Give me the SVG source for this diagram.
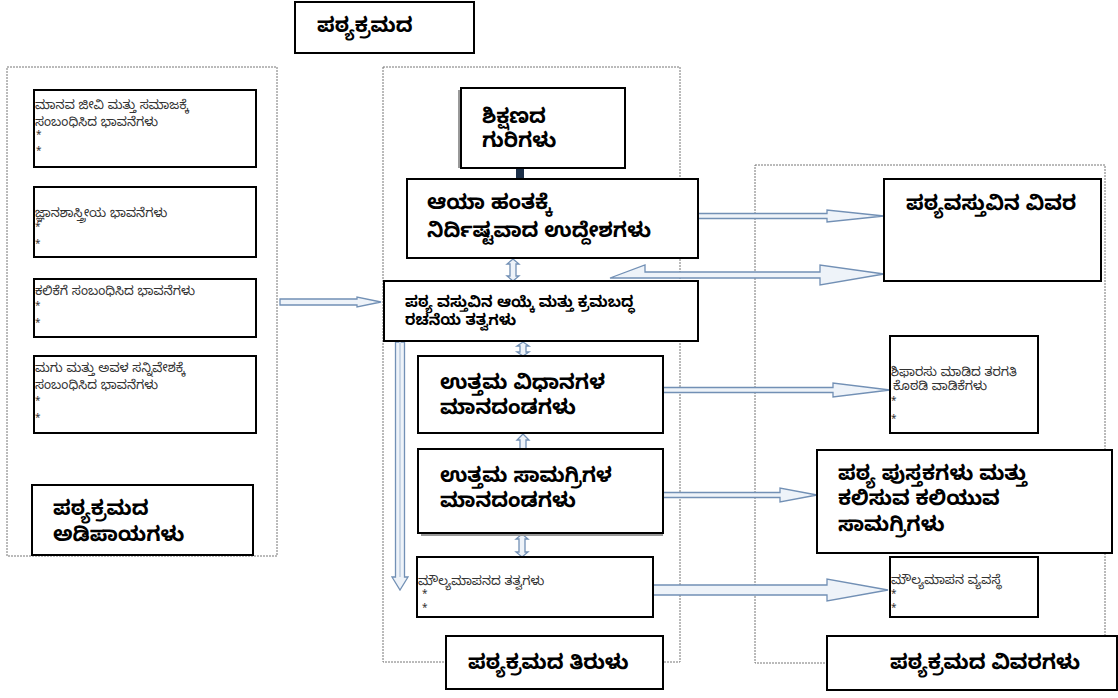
<svg xmlns="http://www.w3.org/2000/svg" width="1118" height="698" viewBox="0 0 1118 698">
<style>
.cont{fill:none;stroke:#777;stroke-width:1;stroke-dasharray:2,1}
.box{fill:#fff;stroke:#000;stroke-width:2}
.sh{fill:#999}
.t{font-family:"Noto Sans Kannada","Noto Sans","Lato",sans-serif;fill:#000}
.s{font-size:12.8px;fill:#333}
.k{font-size:10px}
.b{font-size:20.5px;font-weight:bold}
.m{font-size:15px;font-weight:bold}
.arr{fill:#eef3f9;stroke:#7290b5;stroke-width:1.3}
</style>
<rect width="1118" height="698" fill="#fff"/>
<!-- containers -->
<rect class="cont" x="7" y="67" width="270" height="489"/>
<rect class="cont" x="383" y="67" width="297" height="595"/>
<rect class="cont" x="755" y="165" width="350" height="498"/>

<g id="connectors">
<path class="arr" d="M280,299 L357,299 L357,297 L381,302 L357,307 L357,305 L280,305 Z"/>
<path class="arr" d="M698,213.5 L827,213.5 L827,210 L884,216 L827,222 L827,218.5 L698,218.5 Z"/>
<path class="arr" d="M610,278 L645,265 L645,272 L820,272 L820,265 L884,274 L820,285 L820,278 Z"/>
<path class="arr" d="M663,387.5 L833,387.5 L833,383 L890,390 L833,397 L833,392.5 L663,392.5 Z"/>
<path class="arr" d="M663,492.5 L780,492.5 L780,488 L817,495 L780,502 L780,497.5 L663,497.5 Z"/>
<path class="arr" d="M653,585 L827,585 L827,579 L888,590 L827,601 L827,595 L653,595 Z"/>
<path class="arr" stroke="#5a7ca6" d="M395.5,342 L404.5,342 L404.5,577 L408,577 L400,590 L392,577 L395.5,577 Z"/>
<line x1="400" y1="342" x2="400" y2="577" stroke="#c9d6e6" stroke-width="2"/>
<path class="arr" d="M513,259 L519,264 L516,264 L516,276 L519,276 L513,281 L507,276 L510,276 L510,264 L507,264 Z"/>
<path class="arr" d="M523,342 L529,346 L526,346 L526,352 L529,352 L523,356 L517,352 L520,352 L520,346 L517,346 Z"/>
<path class="arr" d="M523,434 L529,440 L526,440 L526,449 L520,449 L520,440 L517,440 Z"/>
<path class="arr" d="M522,534 L528,539 L525,539 L525,552 L528,552 L522,557 L516,552 L519,552 L519,539 L516,539 Z"/>
<rect x="516" y="168" width="8" height="12" fill="#1c2f48"/>
</g>

<g id="title-top">
<rect class="box" x="295" y="2" width="179" height="51"/>
<text class="t b" x="317" y="32">ಪಠ್ಯಕ್ರಮದ</text>
</g>

<g id="l1">
<rect class="box" x="34" y="90" width="222" height="77"/>
<text class="t s" x="35" y="109"><tspan>ಮಾನವ ಜೀವಿ ಮತ್ತು ಸಮಾಜಕ್ಕೆ</tspan><tspan x="35" y="126">ಸಂಬಂಧಿಸಿದ ಭಾವನೆಗಳು</tspan><tspan class="k" x="36" y="139">*</tspan><tspan class="k" x="36" y="155">*</tspan></text>
</g>
<g id="l2">
<rect class="box" x="34" y="187" width="222" height="70"/>
<text class="t s" x="35" y="217"><tspan>ಜ್ಞಾನಶಾಸ್ತ್ರೀಯ ಭಾವನೆಗಳು</tspan><tspan class="k" x="35" y="231">*</tspan><tspan class="k" x="35" y="248">*</tspan></text>
</g>
<g id="l3">
<rect class="box" x="34" y="279" width="222" height="58"/>
<text class="t s" x="35" y="295"><tspan>ಕಲಿಕೆಗೆ ಸಂಬಂಧಿಸಿದ ಭಾವನೆಗಳು</tspan><tspan class="k" x="35" y="310">*</tspan><tspan class="k" x="35" y="327">*</tspan></text>
</g>
<g id="l4">
<rect class="box" x="34" y="356" width="222" height="77"/>
<text class="t s" x="35" y="372"><tspan>ಮಗು ಮತ್ತು ಅವಳ ಸನ್ನಿವೇಶಕ್ಕೆ</tspan><tspan x="35" y="389">ಸಂಬಂಧಿಸಿದ ಭಾವನೆಗಳು</tspan><tspan class="k" x="35" y="405">*</tspan><tspan class="k" x="35" y="422">*</tspan></text>
</g>
<g id="l5">
<rect class="box" x="32" y="485" width="221" height="70"/>
<text class="t b" x="53" y="515"><tspan>ಪಠ್ಯಕ್ರಮದ</tspan><tspan x="53" y="541">ಅಡಿಪಾಯಗಳು</tspan></text>
</g>

<g id="m1">
<rect class="sh" x="458" y="90" width="6" height="78"/>
<rect class="box" x="461" y="88" width="164" height="80"/>
<text class="t b" x="482" y="123"><tspan>ಶಿಕ್ಷಣದ</tspan><tspan x="482" y="147">ಗುರಿಗಳು</tspan></text>
</g>
<g id="m2">
<rect class="box" x="407" y="179" width="291" height="79"/>
<text class="t b" x="427" y="209"><tspan>ಆಯಾ ಹಂತಕ್ಕೆ</tspan><tspan x="427" y="237">ನಿರ್ದಿಷ್ಟವಾದ ಉದ್ದೇಶಗಳು</tspan></text>
</g>
<g id="m3">
<rect class="box" x="384" y="281" width="314" height="60"/>
<text class="t m" x="405" y="307"><tspan>ಪಠ್ಯ ವಸ್ತುವಿನ ಆಯ್ಕೆ ಮತ್ತು ಕ್ರಮಬದ್ಧ</tspan><tspan x="405" y="325">ರಚನೆಯ ತತ್ವಗಳು</tspan></text>
</g>
<g id="m4">
<rect class="box" x="418" y="356" width="245" height="77"/>
<text class="t b" x="440" y="389"><tspan>ಉತ್ತಮ ವಿಧಾನಗಳ</tspan><tspan x="440" y="414">ಮಾನದಂಡಗಳು</tspan></text>
</g>
<g id="m5">
<rect class="sh" x="421" y="533" width="242" height="3"/>
<rect class="box" x="418" y="449" width="245" height="84"/>
<text class="t b" x="440" y="482"><tspan>ಉತ್ತಮ ಸಾಮಗ್ರಿಗಳ</tspan><tspan x="440" y="507">ಮಾನದಂಡಗಳು</tspan></text>
</g>
<g id="m6">
<rect class="box" x="417" y="557" width="236" height="60" stroke-width="1.5"/>
<text class="t s" x="418" y="585"><tspan>ಮೌಲ್ಯಮಾಪನದ ತತ್ವಗಳು</tspan><tspan class="k" x="422" y="598">*</tspan><tspan class="k" x="422" y="612">*</tspan></text>
</g>
<g id="m7">
<rect class="box" x="446" y="636" width="217" height="53"/>
<text class="t b" x="468" y="669">ಪಠ್ಯಕ್ರಮದ ತಿರುಳು</text>
</g>

<g id="r1">
<rect class="box" x="884" y="179" width="217" height="102"/>
<text class="t b" x="906" y="210">ಪಠ್ಯವಸ್ತುವಿನ ವಿವರ</text>
</g>
<g id="r2">
<rect class="box" x="890" y="336" width="148" height="97" stroke-width="1.5"/>
<text class="t s" x="891" y="376"><tspan>ಶಿಫಾರಸು ಮಾಡಿದ ತರಗತಿ</tspan><tspan x="893" y="390">ಕೊಠಡಿ ವಾಡಿಕೆಗಳು</tspan><tspan class="k" x="891" y="405">*</tspan><tspan class="k" x="891" y="423">*</tspan></text>
</g>
<g id="r3">
<rect class="box" x="817" y="450" width="295" height="103"/>
<text class="t b" x="838" y="480"><tspan>ಪಠ್ಯ ಪುಸ್ತಕಗಳು ಮತ್ತು</tspan><tspan x="838" y="505">ಕಲಿಸುವ ಕಲಿಯುವ</tspan><tspan x="838" y="531">ಸಾಮಗ್ರಿಗಳು</tspan></text>
</g>
<g id="r4">
<rect class="box" x="890" y="557" width="148" height="60" stroke-width="1.5"/>
<text class="t s" x="891" y="584"><tspan>ಮೌಲ್ಯಮಾಪನ ವ್ಯವಸ್ಥೆ</tspan><tspan class="k" x="891" y="598">*</tspan><tspan class="k" x="891" y="612">*</tspan></text>
</g>
<g id="r5">
<rect class="box" x="827" y="636" width="290" height="54"/>
<text class="t b" x="890" y="669">ಪಠ್ಯಕ್ರಮದ ವಿವರಗಳು</text>
</g>
</svg>
